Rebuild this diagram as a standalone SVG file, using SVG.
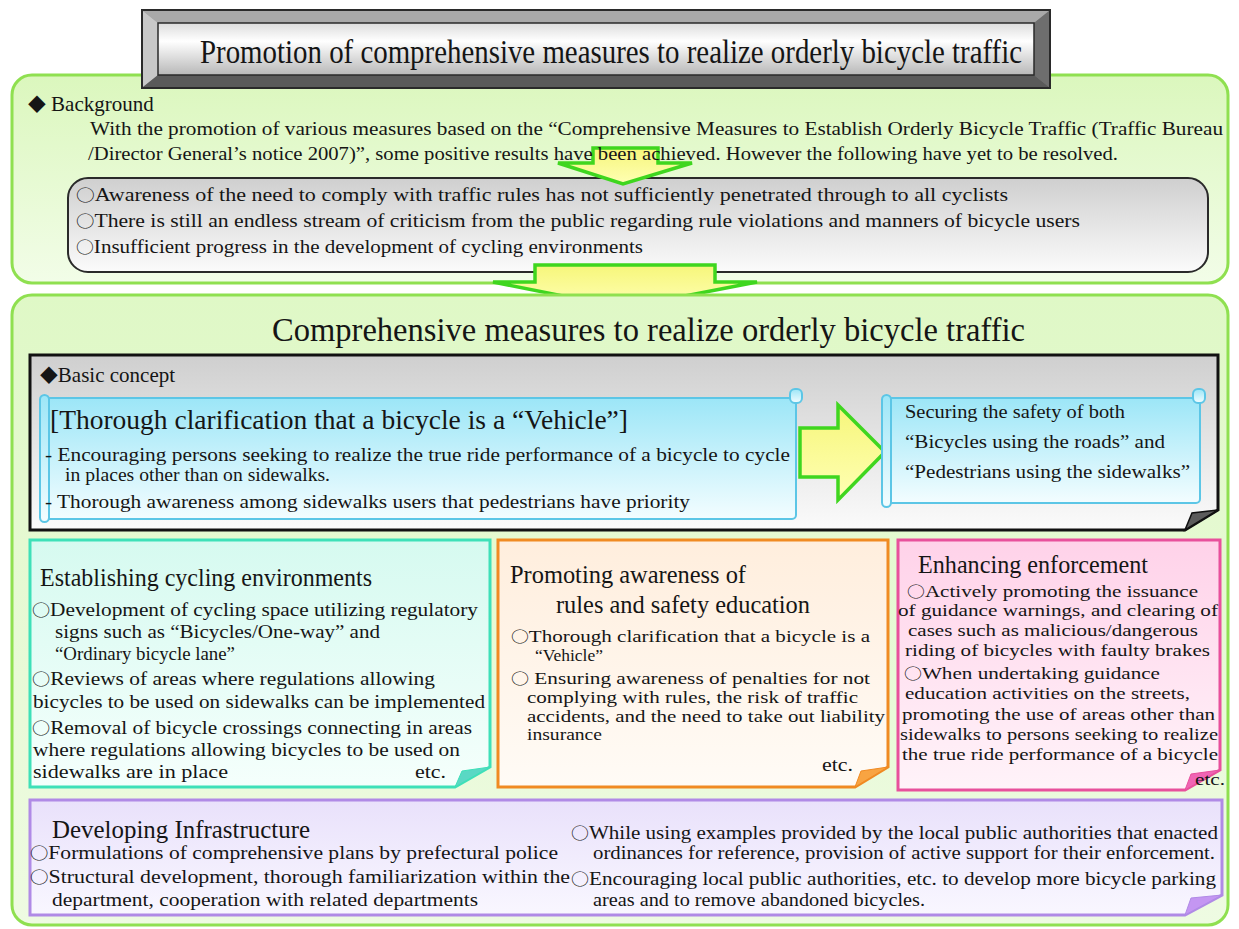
<svg xmlns="http://www.w3.org/2000/svg" width="1239" height="929" viewBox="0 0 1239 929">
<style>
text{font-family:"Liberation Serif","DejaVu Serif",serif;fill:#151515}
.t17{font-size:19px}
.t18{font-size:17.5px}
.t16{font-size:18.5px}
.t20{font-size:21px}
.h22{font-size:24.5px}
.c{font-family:"Noto Sans CJK JP","DejaVu Sans",sans-serif;font-size:0.85em}
.green{stroke:#8fe050;stroke-width:3}
.arrow{fill:url(#gArrow);stroke:#3fd61f;stroke-width:3.5;stroke-linejoin:miter}
.cyan{fill:url(#gCyan);stroke:#5cc6e6;stroke-width:2}
</style>
<defs>
<linearGradient id="gGreen" x1="0" y1="0" x2="0" y2="1"><stop offset="0" stop-color="#dbf7bd"/><stop offset="1" stop-color="#f2fde8"/></linearGradient>
<linearGradient id="gGreen2" x1="0" y1="0" x2="0" y2="1"><stop offset="0" stop-color="#dff8c6"/><stop offset="1" stop-color="#eefbe2"/></linearGradient>
<linearGradient id="gFace" x1="0" y1="0" x2="0" y2="1"><stop offset="0" stop-color="#dcdcdc"/><stop offset="0.35" stop-color="#ffffff"/><stop offset="1" stop-color="#b8b8b8"/></linearGradient>
<linearGradient id="gGray" x1="0" y1="0" x2="0" y2="1"><stop offset="0" stop-color="#cfcfcf"/><stop offset="1" stop-color="#fbfbfb"/></linearGradient>
<linearGradient id="gCyan" x1="0" y1="0" x2="0" y2="1"><stop offset="0" stop-color="#9ce6f7"/><stop offset="1" stop-color="#f3fdff"/></linearGradient>
<linearGradient id="gB1" x1="0" y1="0" x2="0" y2="1"><stop offset="0" stop-color="#d6faf0"/><stop offset="1" stop-color="#f5fffc"/></linearGradient>
<linearGradient id="gB2" x1="0" y1="0" x2="0" y2="1"><stop offset="0" stop-color="#ffeedd"/><stop offset="1" stop-color="#fffbf6"/></linearGradient>
<linearGradient id="gB3" x1="0" y1="0" x2="0" y2="1"><stop offset="0" stop-color="#ffd2e9"/><stop offset="1" stop-color="#fff3f9"/></linearGradient>
<linearGradient id="gB4" x1="0" y1="0" x2="0" y2="1"><stop offset="0" stop-color="#e9e1fb"/><stop offset="1" stop-color="#f9f7ff"/></linearGradient>
<linearGradient id="gArrow" x1="0" y1="0" x2="0" y2="1"><stop offset="0" stop-color="#f6f67a"/><stop offset="1" stop-color="#ffffb4"/></linearGradient>
</defs>
<rect width="1239" height="929" fill="#ffffff"/>

<g id="background-section">
<rect x="12" y="75" width="1216" height="208" rx="20" fill="url(#gGreen)" class="green"/>
<text class="t20" x="28" y="111"><tspan class="c">◆</tspan> Background</text>
</g>

<g id="issues">
<rect x="68" y="178" width="1140" height="94" rx="20" fill="url(#gGray)" stroke="#2a2a2a" stroke-width="2"/>
</g>

<g id="connectors">
<path class="arrow" d="M593,148 H658 V163 H692 L623,184 L558,163 H593 Z"/>
<path class="arrow" d="M535,265 H715 V282 H757 L623,308 L493,282 H535 Z"/>
</g>

<g id="background-text">
<text class="t17" x="90" y="135" textLength="1133" lengthAdjust="spacingAndGlyphs">With the promotion of various measures based on the “Comprehensive Measures to Establish Orderly Bicycle Traffic (Traffic Bureau</text>
<text class="t17" x="88" y="160" textLength="1030" lengthAdjust="spacingAndGlyphs">/Director General’s notice 2007)”, some positive results have been achieved. However the following have yet to be resolved.</text>
</g>

<g id="issues-text">
<text class="t17" x="76" y="201" textLength="932" lengthAdjust="spacingAndGlyphs"><tspan class="c">○</tspan>Awareness of the need to comply with traffic rules has not sufficiently penetrated through to all cyclists</text>
<text class="t17" x="76" y="227" textLength="1004" lengthAdjust="spacingAndGlyphs"><tspan class="c">○</tspan>There is still an endless stream of criticism from the public regarding rule violations and manners of bicycle users</text>
<text class="t17" x="76" y="253" textLength="567" lengthAdjust="spacingAndGlyphs"><tspan class="c">○</tspan>Insufficient progress in the development of cycling environments</text>
</g>

<g id="title">
<rect x="142" y="10" width="908" height="78" fill="#8c8c8c" stroke="#2a2a2a" stroke-width="2"/>
<polygon points="143,11 1049,11 1034,23 158,23" fill="#a9a9a9"/>
<polygon points="143,11 158,23 158,75 143,87" fill="#c8c8c8"/>
<polygon points="1049,11 1049,87 1034,75 1034,23" fill="#6e6e6e"/>
<polygon points="143,87 158,75 1034,75 1049,87" fill="#5a5a5a"/>
<rect x="158" y="23" width="876" height="52" fill="url(#gFace)" stroke="#2a2a2a" stroke-width="1.5"/>
<text x="200" y="63" font-size="33" textLength="822" lengthAdjust="spacingAndGlyphs">Promotion of comprehensive measures to realize orderly bicycle traffic</text>
</g>

<g id="measures-section">
<rect x="12" y="295" width="1216" height="630" rx="20" fill="url(#gGreen2)" class="green"/>
<text x="272" y="341" font-size="33" textLength="753" lengthAdjust="spacingAndGlyphs">Comprehensive measures to realize orderly bicycle traffic</text>
</g>

<g id="basic-concept">
<path d="M30,355 H1218 V510 L1185,530 H30 Z" fill="url(#gGray)" stroke="#111" stroke-width="3"/>
<polygon points="1185,530 1218,510 1192,513" fill="#5c5c5c" stroke="#111" stroke-width="1.5"/>
<text class="t20" x="40" y="382"><tspan class="c">◆</tspan>Basic concept</text>
</g>

<g id="concept-left">
<rect x="44" y="398" width="752" height="121" rx="4" class="cyan"/>
<rect x="790" y="389" width="12" height="14" rx="5" class="cyan"/>
<rect x="40" y="395" width="9" height="127" rx="4.5" class="cyan"/>
<text x="50" y="429" font-size="27" textLength="578" lengthAdjust="spacingAndGlyphs">[Thorough clarification that a bicycle is a “Vehicle”]</text>
<text class="t16" x="45" y="461" textLength="745" lengthAdjust="spacingAndGlyphs">- Encouraging persons seeking to realize the true ride performance of a bicycle to cycle</text>
<text class="t16" x="65" y="481" textLength="265" lengthAdjust="spacingAndGlyphs">in places other than on sidewalks.</text>
<text class="t16" x="45" y="508" textLength="645" lengthAdjust="spacingAndGlyphs">- Thorough awareness among sidewalks users that pedestrians have priority</text>
</g>

<g id="concept-arrow">
<path class="arrow" d="M800,428 H838 V405 L885,452 L838,500 V477 H800 Z"/>
</g>

<g id="concept-right">
<rect x="886" y="398" width="314" height="105" rx="4" class="cyan"/>
<rect x="1193" y="389" width="12" height="14" rx="5" class="cyan"/>
<rect x="882" y="395" width="9" height="112" rx="4.5" class="cyan"/>
<text class="t17" x="905" y="418" textLength="220" lengthAdjust="spacingAndGlyphs">Securing the safety of both</text>
<text class="t17" x="905" y="448" textLength="260" lengthAdjust="spacingAndGlyphs">“Bicycles using the roads” and</text>
<text class="t17" x="905" y="478" textLength="285" lengthAdjust="spacingAndGlyphs">“Pedestrians using the  sidewalks”</text>
</g>

<g id="cycling-environments">
<path d="M30,540 H490 V767 L455,787 H30 Z" fill="url(#gB1)" stroke="#3ee0b8" stroke-width="3"/>
<polygon points="455,787 490,767 462,771" fill="#5ad8c4" stroke="#3ee0b8" stroke-width="1"/>
<text class="h22" x="40" y="586" textLength="332" lengthAdjust="spacingAndGlyphs">Establishing cycling environments</text>
<text class="t17" x="32" y="616" textLength="446" lengthAdjust="spacingAndGlyphs"><tspan class="c">○</tspan>Development of cycling space utilizing regulatory</text>
<text class="t17" x="55" y="638" textLength="325" lengthAdjust="spacingAndGlyphs">signs such as “Bicycles/One-way” and</text>
<text class="t17" x="55" y="660" textLength="180" lengthAdjust="spacingAndGlyphs">“Ordinary bicycle lane”</text>
<text class="t17" x="32" y="685" textLength="403" lengthAdjust="spacingAndGlyphs"><tspan class="c">○</tspan>Reviews of areas where regulations allowing</text>
<text class="t17" x="33" y="708" textLength="452" lengthAdjust="spacingAndGlyphs">bicycles to be used on sidewalks can be implemented</text>
<text class="t17" x="32" y="734" textLength="440" lengthAdjust="spacingAndGlyphs"><tspan class="c">○</tspan>Removal of bicycle crossings connecting in areas</text>
<text class="t17" x="33" y="756" textLength="427" lengthAdjust="spacingAndGlyphs">where regulations allowing bicycles to be used on</text>
<text class="t17" x="33" y="778" textLength="195" lengthAdjust="spacingAndGlyphs">sidewalks are in place</text>
<text class="t17" x="415" y="778" textLength="31" lengthAdjust="spacingAndGlyphs">etc.</text>
</g>

<g id="awareness-education">
<path d="M498,540 H888 V767 L855,787 H498 Z" fill="url(#gB2)" stroke="#f08a22" stroke-width="3"/>
<polygon points="855,787 888,767 861,771" fill="#f8a442" stroke="#f08a22" stroke-width="1"/>
<text class="h22" x="510" y="583" textLength="236" lengthAdjust="spacingAndGlyphs">Promoting awareness of</text>
<text class="h22" x="556" y="613" textLength="254" lengthAdjust="spacingAndGlyphs">rules and safety education</text>
<text class="t18" x="511" y="642" textLength="359" lengthAdjust="spacingAndGlyphs"><tspan class="c">○</tspan>Thorough clarification that a bicycle is a</text>
<text class="t18" x="535" y="661">“Vehicle”</text>
<text class="t18" x="511" y="684" textLength="359" lengthAdjust="spacingAndGlyphs"><tspan class="c">○</tspan> Ensuring awareness of penalties for not</text>
<text class="t18" x="527" y="703" textLength="331" lengthAdjust="spacingAndGlyphs">complying with rules, the risk of traffic</text>
<text class="t18" x="527" y="722" textLength="358" lengthAdjust="spacingAndGlyphs">accidents, and the need to take out liability</text>
<text class="t18" x="527" y="740" textLength="75" lengthAdjust="spacingAndGlyphs">insurance</text>
<text class="t17" x="822" y="771" textLength="31" lengthAdjust="spacingAndGlyphs">etc.</text>
</g>

<g id="enforcement">
<path d="M898,540 H1220 V770 L1185,790 H898 Z" fill="url(#gB3)" stroke="#e8509c" stroke-width="3"/>
<polygon points="1185,790 1220,770 1191,774" fill="#f064b4" stroke="#e8509c" stroke-width="1"/>
<text class="h22" x="918" y="573" textLength="230" lengthAdjust="spacingAndGlyphs">Enhancing enforcement</text>
<text class="t18" x="907" y="597" textLength="291" lengthAdjust="spacingAndGlyphs"><tspan class="c">○</tspan>Actively promoting the issuance</text>
<text class="t18" x="898" y="616" textLength="320" lengthAdjust="spacingAndGlyphs">of guidance warnings, and clearing of</text>
<text class="t18" x="908" y="636" textLength="290" lengthAdjust="spacingAndGlyphs">cases such as malicious/dangerous</text>
<text class="t18" x="905" y="656" textLength="305" lengthAdjust="spacingAndGlyphs">riding of bicycles with faulty brakes</text>
<text class="t18" x="904" y="679" textLength="256" lengthAdjust="spacingAndGlyphs"><tspan class="c">○</tspan>When undertaking guidance</text>
<text class="t18" x="905" y="699" textLength="285" lengthAdjust="spacingAndGlyphs">education activities on the streets,</text>
<text class="t18" x="902" y="720" textLength="313" lengthAdjust="spacingAndGlyphs">promoting the use of areas other than</text>
<text class="t18" x="900" y="740" textLength="318" lengthAdjust="spacingAndGlyphs">sidewalks to persons seeking to realize</text>
<text class="t18" x="902" y="760" textLength="316" lengthAdjust="spacingAndGlyphs">the true ride performance of a bicycle</text>
<text class="t18" x="1195" y="785" textLength="30" lengthAdjust="spacingAndGlyphs">etc.</text>
</g>

<g id="infrastructure">
<path d="M30,800 H1222 V895 L1185,915 H30 Z" fill="url(#gB4)" stroke="#b08ae6" stroke-width="3"/>
<polygon points="1185,915 1222,895 1191,898" fill="#c496f2" stroke="#b08ae6" stroke-width="1"/>
<text class="h22" x="52" y="838" textLength="258" lengthAdjust="spacingAndGlyphs">Developing Infrastructure</text>
<text class="t17" x="30" y="859" textLength="528" lengthAdjust="spacingAndGlyphs"><tspan class="c">○</tspan>Formulations of comprehensive plans by prefectural police</text>
<text class="t17" x="30" y="883" textLength="540" lengthAdjust="spacingAndGlyphs"><tspan class="c">○</tspan>Structural development, thorough familiarization within the</text>
<text class="t17" x="52" y="906" textLength="426" lengthAdjust="spacingAndGlyphs">department, cooperation with related departments</text>
<text class="t17" x="571" y="839" textLength="647" lengthAdjust="spacingAndGlyphs"><tspan class="c">○</tspan>While using examples provided by the local public authorities that enacted</text>
<text class="t17" x="593" y="859" textLength="622" lengthAdjust="spacingAndGlyphs">ordinances for reference, provision of active support for their enforcement.</text>
<text class="t17" x="571" y="885" textLength="645" lengthAdjust="spacingAndGlyphs"><tspan class="c">○</tspan>Encouraging local public authorities, etc. to develop more bicycle parking</text>
<text class="t17" x="593" y="906" textLength="332" lengthAdjust="spacingAndGlyphs">areas and to remove abandoned bicycles.</text>
</g>
</svg>
